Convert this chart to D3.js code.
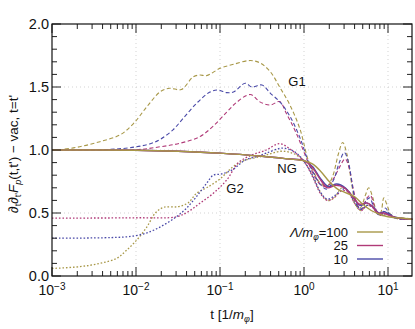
<!DOCTYPE html>
<html>
<head>
<meta charset="utf-8">
<script src="https://cdn.jsdelivr.net/npm/d3@7"></script>
<style>
  body { margin: 0; background: #fff; }
  text { font-family: "Liberation Sans", Arial, sans-serif; }
</style>
</head>
<body>
<script>
// data: [log10 t, value]
var g1_100 = [[-3,1.0],[-2.9,1.003],[-2.67,1.026],[-2.43,1.066],[-2.19,1.12],[-2.03,1.21],[-1.87,1.344],[-1.71,1.463],[-1.6,1.49],[-1.46,1.48],[-1.32,1.58],[-1.24,1.595],[-1.16,1.59],[-1.0,1.648],[-0.84,1.68],[-0.64,1.71],[-0.52,1.69],[-0.40,1.62],[-0.29,1.50],[-0.17,1.36],[-0.05,1.17],[0.05,0.92],[0.12,0.82],[0.19,0.74],[0.27,0.71],[0.34,0.79],[0.41,0.97],[0.46,1.06],[0.51,0.97],[0.57,0.72],[0.62,0.56],[0.67,0.54],[0.73,0.64],[0.77,0.70],[0.82,0.62],[0.87,0.50],[0.91,0.50],[0.95,0.62],[0.99,0.56],[1.04,0.48],[1.12,0.46],[1.2,0.46],[1.29,0.45]];
var g1_25 = [[-3,1.0],[-2.0,1.002],[-1.71,1.026],[-1.48,1.053],[-1.24,1.106],[-1.08,1.19],[-0.92,1.30],[-0.80,1.38],[-0.64,1.44],[-0.52,1.38],[-0.40,1.357],[-0.29,1.384],[-0.21,1.29],[-0.09,1.13],[0.05,0.90],[0.12,0.80],[0.19,0.73],[0.27,0.71],[0.35,0.77],[0.42,0.86],[0.49,0.93],[0.54,0.85],[0.59,0.68],[0.64,0.56],[0.69,0.53],[0.75,0.62],[0.79,0.64],[0.84,0.55],[0.9,0.49],[0.96,0.50],[1.0,0.49],[1.1,0.46],[1.29,0.45]];
var g1_10 = [[-3,1.0],[-2.3,1.005],[-2.0,1.025],[-1.83,1.05],[-1.71,1.085],[-1.56,1.16],[-1.44,1.25],[-1.28,1.37],[-1.12,1.46],[-1.02,1.476],[-0.92,1.455],[-0.84,1.46],[-0.70,1.53],[-0.62,1.50],[-0.50,1.516],[-0.40,1.45],[-0.29,1.384],[-0.17,1.27],[-0.05,1.10],[0.05,0.91],[0.12,0.81],[0.19,0.73],[0.27,0.69],[0.35,0.76],[0.42,0.90],[0.48,0.98],[0.53,0.90],[0.58,0.70],[0.63,0.56],[0.68,0.53],[0.74,0.60],[0.78,0.62],[0.83,0.55],[0.88,0.49],[0.93,0.49],[0.97,0.54],[1.01,0.50],[1.08,0.46],[1.29,0.45]];

var ng_100 = [[-3,1.0],[-2,0.998],[-1.5,0.99],[-1.0,0.975],[-0.5,0.95],[-0.2,0.93],[0,0.915],[0.1,0.89],[0.2,0.83],[0.3,0.75],[0.4,0.69],[0.5,0.66],[0.6,0.63],[0.7,0.57],[0.8,0.52],[0.9,0.49],[1.0,0.47],[1.15,0.46],[1.29,0.45]];
var ng_25 = [[-3,1.0],[-2,0.998],[-1.5,0.99],[-1.0,0.975],[-0.5,0.95],[-0.2,0.93],[0,0.915],[0.1,0.86],[0.2,0.76],[0.28,0.70],[0.38,0.72],[0.48,0.70],[0.58,0.63],[0.66,0.57],[0.74,0.58],[0.8,0.56],[0.88,0.50],[0.95,0.50],[1.02,0.48],[1.12,0.46],[1.29,0.45]];
var ng_10 = [[-3,1.0],[-2,0.998],[-1.5,0.99],[-1.0,0.975],[-0.5,0.95],[-0.2,0.93],[0,0.915],[0.1,0.87],[0.2,0.77],[0.29,0.71],[0.39,0.73],[0.49,0.70],[0.59,0.62],[0.67,0.56],[0.75,0.58],[0.82,0.55],[0.89,0.50],[0.96,0.51],[1.03,0.48],[1.13,0.46],[1.29,0.45]];

var g2_100 = [[-3,0.06],[-2.67,0.074],[-2.43,0.10],[-2.23,0.14],[-2.11,0.206],[-1.99,0.286],[-1.87,0.39],[-1.77,0.50],[-1.67,0.545],[-1.5,0.55],[-1.38,0.58],[-1.28,0.656],[-1.16,0.70],[-1.0,0.77],[-0.84,0.87],[-0.7,0.92],[-0.5,0.95],[-0.27,0.99],[-0.12,0.97],[0.0,0.91],[0.1,0.80],[0.2,0.66],[0.28,0.60],[0.36,0.62],[0.45,0.70],[0.52,0.68],[0.6,0.58],[0.67,0.52],[0.74,0.55],[0.8,0.56],[0.87,0.50],[0.93,0.48],[1.0,0.50],[1.08,0.46],[1.29,0.45]];
var g2_25 = [[-3,0.46],[-2.0,0.462],[-1.52,0.47],[-1.38,0.51],[-1.24,0.577],[-1.08,0.656],[-0.92,0.762],[-0.78,0.90],[-0.62,0.96],[-0.45,1.0],[-0.29,1.05],[-0.15,1.0],[0.0,0.91],[0.1,0.79],[0.2,0.65],[0.28,0.60],[0.37,0.63],[0.46,0.68],[0.53,0.66],[0.61,0.57],[0.68,0.52],[0.75,0.56],[0.81,0.55],[0.88,0.49],[0.94,0.48],[1.0,0.49],[1.1,0.46],[1.29,0.45]];
var g2_10 = [[-3,0.30],[-2.3,0.305],[-2.03,0.317],[-1.83,0.352],[-1.67,0.405],[-1.52,0.47],[-1.40,0.537],[-1.28,0.63],[-1.16,0.735],[-1.08,0.80],[-0.98,0.81],[-0.86,0.84],[-0.7,0.92],[-0.55,0.95],[-0.45,0.975],[-0.25,1.015],[-0.1,0.98],[0.0,0.91],[0.1,0.80],[0.2,0.66],[0.28,0.61],[0.37,0.64],[0.46,0.69],[0.53,0.67],[0.61,0.58],[0.68,0.53],[0.75,0.56],[0.81,0.55],[0.88,0.50],[0.94,0.49],[1.0,0.50],[1.1,0.46],[1.29,0.45]];

var lambdas = ["100", "25", "10"];
var colors = ["#a89848", "#b03a78", "#4a4aa8"];
var yTicks = [0, 0.5, 1, 1.5, 2];
var xTicks = [-3, -2, -1, 0, 1];

var W = 415, H = 329;
var m = {left: 52, top: 24, right: 3, bottom: 53};

var svg = d3.select("body").append("svg")
    .attr("width", W).attr("height", H);

var x = d3.scaleLog().domain([1e-3, 19.3]).range([m.left, W - m.right]);
var y = d3.scaleLinear().domain([0, 2]).range([H - m.bottom, m.top]);

var x0 = m.left, x1 = W - m.right, y0 = H - m.bottom, y1 = m.top;

//grid
var grid = svg.append("g").attr("stroke", "#c8c8c8").attr("stroke-width", 0.8)
    .attr("stroke-dasharray", "1,3");
[0.5, 1, 1.5].forEach(function(v) {
  grid.append("line").attr("x1", x0).attr("x2", x1).attr("y1", y(v)).attr("y2", y(v));
});
[-2, -1, 0, 1].forEach(function(e) {
  grid.append("line").attr("x1", x(Math.pow(10, e))).attr("x2", x(Math.pow(10, e)))
      .attr("y1", y0).attr("y2", y1);
});

//curves
var line = d3.line()
    .x(function(d) { return x(Math.pow(10, d[0])); })
    .y(function(d) { return y(d[1]); })
    .curve(d3.curveCatmullRom.alpha(0.5));

var plot = svg.append("g");
var families = [
  {data: [g2_100, g2_25, g2_10], dash: "1.6,1.9", w: 1.3},
  {data: [g1_100, g1_25, g1_10], dash: "4,2.5", w: 1.1},
  {data: [ng_10, ng_25, ng_100], dash: null, w: 1.4}
];
families.forEach(function(f) {
  f.data.forEach(function(d, i) {
    var c = f.dash ? colors[i] : colors[2 - i];
    plot.append("path").datum(d)
        .attr("fill", "none")
        .attr("stroke", c)
        .attr("stroke-width", f.w)
        .attr("stroke-dasharray", f.dash)
        .attr("d", line);
  });
});

//ticks
var ax = svg.append("g").attr("stroke", "#222").attr("stroke-width", 1);
for (var v = 0; v <= 20; v++) {
  var len = v % 5 === 0 ? 9 : 5;
  var yy = y(v / 10);
  ax.append("line").attr("x1", x0).attr("x2", x0 + len).attr("y1", yy).attr("y2", yy);
  ax.append("line").attr("x1", x1).attr("x2", x1 - len).attr("y1", yy).attr("y2", yy);
}
for (var e = -3; e <= 1; e++) {
  for (var k = 1; k <= 9; k++) {
    var t = k * Math.pow(10, e);
    if (t > 19.3) break;
    var xx = x(t);
    var l = k === 1 ? 9 : 5;
    ax.append("line").attr("x1", xx).attr("x2", xx).attr("y1", y0).attr("y2", y0 - l);
    ax.append("line").attr("x1", xx).attr("x2", xx).attr("y1", y1).attr("y2", y1 + l);
  }
}
svg.append("rect").attr("x", x0).attr("y", y1).attr("width", x1 - x0).attr("height", y0 - y1)
    .attr("fill", "none").attr("stroke", "#111").attr("stroke-width", 1.2);

//tick labels
yTicks.forEach(function(v) {
  svg.append("text").attr("x", x0 - 3).attr("y", y(v) + 5)
      .attr("text-anchor", "end").attr("font-size", 14.5).attr("fill", "#111")
      .text(d3.format(".1f")(v));
});
xTicks.forEach(function(e) {
  var tx = svg.append("text").attr("x", x(Math.pow(10, e))).attr("y", y0 + 19)
      .attr("text-anchor", "middle").attr("font-size", 14).attr("fill", "#111");
  tx.append("tspan").text("10");
  tx.append("tspan").attr("dy", -5).attr("font-size", 10).text(e < 0 ? "\u2212" + (-e) : "" + e);
});

//axis titles
var xl = svg.append("text").attr("x", (x0 + x1) / 2).attr("y", 319)
    .attr("text-anchor", "middle").attr("font-size", 13.5).attr("fill", "#111");
xl.append("tspan").text("t [1/");
xl.append("tspan").attr("font-style", "italic").text("m");
xl.append("tspan").attr("font-size", 9).attr("dy", 3).attr("font-style", "italic").text("\u03c6");
xl.append("tspan").attr("dy", -3).text("]");

var yl = svg.append("text").attr("transform", "translate(18,154) rotate(-90)")
    .attr("text-anchor", "middle").attr("font-size", 13.5).attr("fill", "#111");
yl.append("tspan").attr("font-style", "italic").text("\u2202");
yl.append("tspan").attr("font-size", 9).attr("dy", 3).text("t");
yl.append("tspan").attr("font-style", "italic").attr("dy", -3).text("\u2202");
yl.append("tspan").attr("font-size", 9).attr("dy", 3).text("t'");
yl.append("tspan").attr("font-style", "italic").attr("dy", -3).text("F");
yl.append("tspan").attr("font-size", 9).attr("dy", 3).attr("font-style", "italic").text("p");
yl.append("tspan").attr("dy", -3).text("(t,t') \u2212 vac, t=t'");

//curve labels
var labels = [["G1", 297, 86], ["NG", 287, 173], ["G2", 235, 193]];
labels.forEach(function(d) {
  svg.append("text").attr("x", d[1]).attr("y", d[2]).attr("text-anchor", "middle")
      .attr("font-size", 13).attr("fill", "#111").text(d[0]);
});

//legend
var legY = [232, 245.5, 259];
lambdas.forEach(function(lab, i) {
  var g = svg.append("g");
  g.append("line").attr("x1", 357).attr("x2", 383).attr("y1", legY[i]).attr("y2", legY[i])
      .attr("stroke", colors[i]).attr("stroke-width", 1.4);
  var tx = g.append("text").attr("x", 348).attr("y", legY[i] + 4.5).attr("text-anchor", "end")
      .attr("font-size", 13).attr("fill", "#111");
  if (i === 0) {
    tx.append("tspan").attr("font-style", "italic").text("\u039b/m");
    tx.append("tspan").attr("font-size", 8.5).attr("dy", 3).attr("font-style", "italic").text("\u03c6");
    tx.append("tspan").attr("dy", -3).text("=" + lab);
  } else {
    tx.text(lab);
  }
});
</script>
</body>
</html>
